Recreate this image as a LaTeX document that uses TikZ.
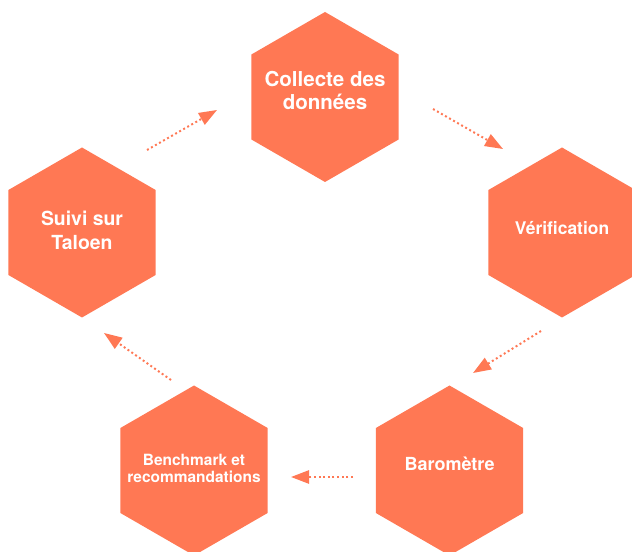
\documentclass[tikz,border=0pt]{standalone}
\usepackage{fontspec}
\setmainfont{TeX Gyre Heros}
\usetikzlibrary{calc,shapes.geometric,arrows.meta}

\definecolor{hexorange}{RGB}{255,120,84}

\begin{document}
\begin{tikzpicture}[hexbox/.style={regular polygon,regular polygon sides=6,rotate=30,minimum size=4.25cm,inner sep=0pt,outer sep=0pt,fill=hexorange},
                    hextext/.style={text=white,font=\bfseries,align=center,inner sep=0pt},
                    flow/.style={draw=hexorange,line width=1.4pt,dash pattern=on 1.4pt off 1.9pt,-{Triangle[length=0.45cm,width=0.33cm]}}]

\useasboundingbox (0,0) rectangle (15.8,13.775);

\node [hexbox] (collecte) at (8.125,11.35) {};
\node [hexbox] (verif) at (14.05,7.9625) {};
\node [hexbox] (barometre) at (11.2375,2.0125) {};
\node [hexbox] (benchmark) at (4.85,2.0125) {};
\node [hexbox] (suivi) at (2.05,7.9625) {};

\node [hextext,font=\fontsize{14.6}{16.4}\selectfont\bfseries] (collecte-t) at ([yshift=0.16cm]collecte) {Collecte des\\données};
\node [hextext,font=\fontsize{12.4}{14}\selectfont\bfseries] (verif-t) at ([yshift=0.11cm]verif) {Vérification};
\node [hextext,font=\fontsize{12.8}{14}\selectfont\bfseries] (barometre-t) at ([yshift=0.16cm]barometre) {Baromètre};
\node [hextext,font=\fontsize{11}{12.6}\selectfont\bfseries] (benchmark-t) at ([yshift=0.05cm]benchmark) {Benchmark et\\recommandations};
\node [hextext,font=\fontsize{13.8}{17}\selectfont\bfseries] (suivi-t) at ([yshift=0.06cm]suivi) {Suivi sur\\Taloen};

% dotted arrows between the steps
\coordinate (a1) at (10.825,11.05);
\coordinate (b1) at (12.575,10.05);
\coordinate (a2) at (13.525,5.5);
\coordinate (b2) at (11.825,4.45);
\coordinate (a3) at (8.825,1.85);
\coordinate (b3) at (7.275,1.85);
\coordinate (a4) at (4.275,4.275);
\coordinate (b4) at (2.6,5.45);
\coordinate (a5) at (3.675,10.025);
\coordinate (b5) at (5.425,11.025);

\foreach \i in {1,...,5}
{
\draw [flow] (a\i) -- (b\i);
}

\end{tikzpicture}
\end{document}
